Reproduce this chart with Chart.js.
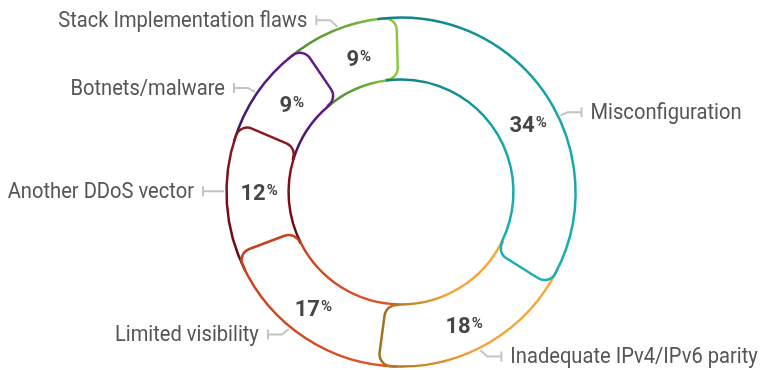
<!DOCTYPE html>
<html>
<head>
<meta charset="utf-8">
<script src="https://cdn.jsdelivr.net/npm/chart.js@4.4.1/dist/chart.umd.min.js"></script>
<style>
  html, body { margin: 0; padding: 0; background: #fff; }
</style>
</head>
<body>
<canvas id="ddosChart" width="762" height="370"></canvas>
<script>
const categories = ['Misconfiguration', 'Inadequate IPv4/IPv6 parity', 'Limited visibility',
                    'Another DDoS vector', 'Botnets/malware', 'Stack Implementation flaws'];
const shares = [34, 18, 17, 12, 9, 9];

// outline gradient of each segment, start -> middle -> end (clockwise)
const startColors = ['#137f83', '#f8aa3c', '#e3542b', '#6a0914', '#3c1868', '#4a8a2b'];
const midColors   = ['#18a6a7', '#f4a234', '#d44922', '#7c0f19', '#561a7c', '#6aa934'];
const endColors   = ['#1ab0af', '#a2701f', '#c4421d', '#8a1a1e', '#67198a', '#8fc742'];

// where each leader line leaves the ring, relative to the segment middle (deg)
const leaderShift = [4, -1.5, 0.8, -1, -5, -3.2];

const LAP = 0.11;      // each outline starts a little under the previous tab (rad)
const CORNER = 12;     // radius of the rounded tab corners

function drawOutline(ctx, arc, i) {
  const {x, y, startAngle, endAngle, innerRadius, outerRadius} =
    arc.getProps(['x', 'y', 'startAngle', 'endAngle', 'innerRadius', 'outerRadius'], true);
  const R = outerRadius - 1.5, r = innerRadius + 0.5;
  const a0 = startAngle - LAP, a1 = endAngle;

  const span = (a1 - a0) / (Math.PI * 2);
  const g = ctx.createConicGradient(a0, x, y);
  g.addColorStop(0, startColors[i]);
  g.addColorStop(span * 0.55, midColors[i]);
  g.addColorStop(span, endColors[i]);
  g.addColorStop(1, endColors[i]);

  const ox = x + R * Math.cos(a1), oy = y + R * Math.sin(a1);
  const ix = x + r * Math.cos(a1), iy = y + r * Math.sin(a1);
  ctx.beginPath();
  ctx.arc(x, y, R, a0, a1 - CORNER / R);
  ctx.arcTo(ox, oy, ix, iy, CORNER);
  ctx.arcTo(ix, iy, ix + 30 * Math.sin(a1), iy - 30 * Math.cos(a1), CORNER);
  ctx.arc(x, y, r, a1 - CORNER / r, a0, true);
  ctx.strokeStyle = g;
  ctx.lineWidth = 2.5;
  ctx.lineJoin = 'round';
  ctx.stroke();
}

function drawPercent(ctx, arc, i) {
  const {x, y, startAngle, endAngle, innerRadius, outerRadius} =
    arc.getProps(['x', 'y', 'startAngle', 'endAngle', 'innerRadius', 'outerRadius'], true);
  const mid = (startAngle + endAngle) / 2;
  const rad = (innerRadius + outerRadius) / 2;
  const cx = x + rad * Math.cos(mid) + 2, cy = y + rad * Math.sin(mid) + 3;
  const num = String(shares[i]);
  ctx.fillStyle = '#464646';
  ctx.textBaseline = 'alphabetic';
  ctx.textAlign = 'left';
  ctx.font = 'bold 22px Roboto';
  const wN = ctx.measureText(num).width;
  ctx.font = 'bold 15px Roboto';
  const wP = ctx.measureText('%').width;
  const left = cx - (wN + 1 + wP) / 2;
  const base = cy + 8;
  ctx.font = 'bold 22px Roboto';
  ctx.fillText(num, left, base);
  ctx.font = 'bold 15px Roboto';
  ctx.fillText('%', left + wN + 1, base - 5);
}

function drawLeader(ctx, arc, i) {
  const {x, y, startAngle, endAngle, outerRadius} =
    arc.getProps(['x', 'y', 'startAngle', 'endAngle', 'outerRadius'], true);
  const a = (startAngle + endAngle) / 2 + leaderShift[i] * Math.PI / 180;
  const c = Math.cos(a), s = Math.sin(a);
  const dir = c >= 0 ? 1 : -1;
  const x0 = x + (outerRadius + 1) * c, y0 = y + (outerRadius + 1) * s;
  const x1 = x0 + dir * 7, y1 = y0 + 7 * s;
  const x2 = x1 + dir * 14;

  ctx.strokeStyle = '#c4c4c4';
  ctx.lineWidth = 2;
  ctx.lineJoin = 'miter';
  ctx.beginPath();
  ctx.moveTo(x0, y0);
  ctx.lineTo(x1, y1);
  ctx.lineTo(x2, y1);
  ctx.moveTo(x2, y1 - 5);
  ctx.lineTo(x2, y1 + 5);
  ctx.stroke();

  // condensed label text
  ctx.save();
  ctx.translate(x2 + dir * 9, y1 + 1);
  ctx.scale(0.915, 1);
  ctx.font = '22px Roboto';
  ctx.fillStyle = '#555555';
  ctx.textAlign = dir > 0 ? 'left' : 'right';
  ctx.textBaseline = 'middle';
  ctx.fillText(categories[i], 0, 0);
  ctx.restore();
}

const ringOutline = {
  id: 'ringOutline',
  afterDatasetsDraw(chart) {
    const ctx = chart.ctx;
    const arcs = chart.getDatasetMeta(0).data;
    ctx.save();
    for (let i = arcs.length - 1; i >= 0; i--) drawOutline(ctx, arcs[i], i);
    arcs.forEach((arc, i) => drawLeader(ctx, arc, i));
    arcs.forEach((arc, i) => drawPercent(ctx, arc, i));
    ctx.restore();
  }
};

new Chart(document.getElementById('ddosChart'), {
  type: 'doughnut',
  data: {
    labels: categories,
    datasets: [{
      data: shares,
      backgroundColor: '#ffffff',
      borderWidth: 0,
      hoverBorderWidth: 0,
      offset: 0,
      hoverOffset: 0
    }]
  },
  options: {
    responsive: false,
    animation: false,
    rotation: -1.5,
    cutout: '63.6%',
    layout: { padding: { left: 40, right: 0, top: 16, bottom: 2 } },
    plugins: { legend: { display: false }, tooltip: { enabled: false } }
  },
  plugins: [ringOutline]
});
</script>
</body>
</html>
